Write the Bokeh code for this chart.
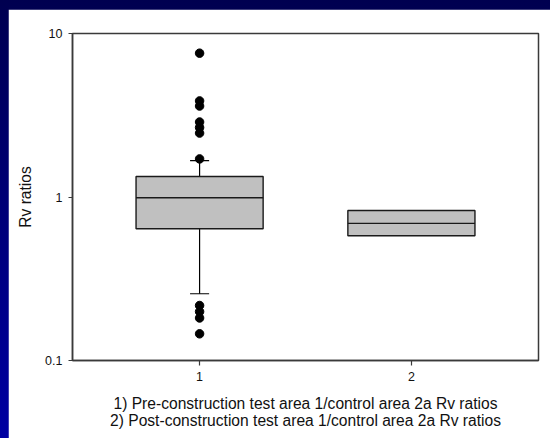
from bokeh.plotting import figure
from bokeh.models import Range1d, FixedTicker, ColumnDataSource
from bokeh.layouts import column
from bokeh.embed import file_html
from bokeh.resources import INLINE

# ---- data ----
groups = [1, 2]
tick_labels = ["1", "2"]
q1 = [0.64, 0.58]
median = [0.99, 0.69]
q3 = [1.335, 0.827]
whisker_group = [1]
whisker_low = [0.256]
whisker_high = [1.67]
outlier_group = [1, 1, 1, 1, 1, 1, 1, 1, 1, 1, 1]
outlier_vals = [7.58, 3.87, 3.60, 2.875, 2.66, 2.46, 1.71, 0.217, 0.199, 0.182, 0.1456]
y_label = "Rv ratios"
caption = ["1) Pre-construction test area 1/control area 2a Rv ratios",
           "2) Post-construction test area 1/control area 2a Rv ratios"]

FONT = "Liberation Sans"
BOX_W = 0.6
CAP_W = 0.09

p = figure(width=542, height=429, x_range=Range1d(0.4, 2.6), y_range=Range1d(0.1, 10),
           y_axis_type="log", output_backend="svg", toolbar_location=None,
           min_border_left=64, min_border_right=12, min_border_top=24, min_border_bottom=78)
p.grid.visible = False
p.background_fill_color = "white"
p.border_fill_color = "white"
p.outline_line_color = "#3a3a3a"
p.outline_line_width = 1.5

box_src = ColumnDataSource(dict(x=groups, q1=q1, q3=q3, med=median,
                                l=[g - BOX_W / 2 for g in groups],
                                r=[g + BOX_W / 2 for g in groups]))
w_src = ColumnDataSource(dict(x=whisker_group, lo=whisker_low, hi=whisker_high,
                              q1=[q1[groups.index(g)] for g in whisker_group],
                              q3=[q3[groups.index(g)] for g in whisker_group],
                              cl=[g - CAP_W / 2 for g in whisker_group],
                              cr=[g + CAP_W / 2 for g in whisker_group]))
p.segment(x0="x", y0="q3", x1="x", y1="hi", source=w_src, line_color="black", line_width=1.2)
p.segment(x0="x", y0="q1", x1="x", y1="lo", source=w_src, line_color="black", line_width=1.2)
p.segment(x0="cl", y0="hi", x1="cr", y1="hi", source=w_src, line_color="black", line_width=1.2)
p.segment(x0="cl", y0="lo", x1="cr", y1="lo", source=w_src, line_color="black", line_width=1.2)

p.vbar(x="x", width=BOX_W, bottom="q1", top="q3", source=box_src,
       fill_color="#c0c0c0", line_color="#1a1a1a", line_width=1.4)
p.segment(x0="l", y0="med", x1="r", y1="med", source=box_src, line_color="#1a1a1a", line_width=1.4)

p.scatter(outlier_group, outlier_vals, size=8.5, color="black")

# axes
p.xaxis.ticker = FixedTicker(ticks=groups)
p.xaxis.major_label_overrides = {g: t for g, t in zip(groups, tick_labels)}
p.xaxis.minor_tick_line_color = None
p.xaxis.major_tick_out = 5
p.xaxis.major_tick_in = 0
p.xaxis.major_label_standoff = 6
p.yaxis.ticker = FixedTicker(ticks=[0.1, 1, 10], minor_ticks=[])
p.yaxis.major_label_overrides = {0.1: "0.1", 1: "1", 10: "10"}
p.yaxis.minor_tick_line_color = None
p.yaxis.major_tick_out = 4
p.yaxis.major_tick_in = 0
p.yaxis.major_label_standoff = 6
for ax in (p.xaxis[0], p.yaxis[0]):
    ax.axis_line_color = "#3a3a3a"
    ax.axis_line_width = 1.5
    ax.major_tick_line_color = "#3a3a3a"
    ax.major_tick_line_width = 1.2
    ax.major_label_text_font = FONT
    ax.major_label_text_font_size = "12.5px"
    ax.major_label_text_color = "#111111"
    ax.axis_label_text_font = FONT
    ax.axis_label_text_font_size = "15.6px"
    ax.axis_label_text_font_style = "normal"
    ax.axis_label_text_color = "#111111"

p.yaxis.axis_label = y_label
p.yaxis.axis_label_standoff = 8
p.xaxis.axis_label = "\n".join(caption)
p.xaxis.axis_label_standoff = 11
p.xaxis.axis_label_text_line_height = 1.05

layout = column(p, styles={"background-image": "linear-gradient(to bottom, #000050, #0000a2)",
                           "padding-top": "9px", "padding-left": "8px"})

open("out.html", "w").write(file_html(layout, INLINE))
